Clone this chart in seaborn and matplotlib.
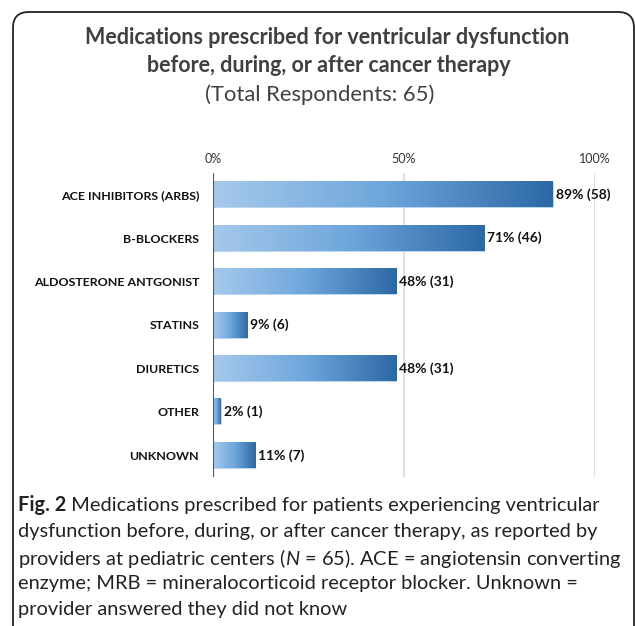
import matplotlib.pyplot as plt
import seaborn as sns
import numpy as np
import pandas as pd
from matplotlib.colors import LinearSegmentedColormap
from matplotlib.patches import FancyBboxPatch

# Data
categories = ['ACE INHIBITORS (ARBS)', 'B-BLOCKERS', 'ALDOSTERONE ANTGONIST',
              'STATINS', 'DIURETICS', 'OTHER', 'UNKNOWN']
percents = [89, 71, 48, 9, 48, 2, 11]
counts = [58, 46, 31, 6, 31, 1, 7]
ticks = [0, 50, 100]
tick_labels = ['0%', '50%', '100%']

df = pd.DataFrame({'med': categories, 'pct': percents, 'n': counts})

sns.set_style('white')
plt.rcParams['font.family'] = ['Lato', 'DejaVu Sans']
plt.rcParams['mathtext.fontset'] = 'custom'
plt.rcParams['mathtext.rm'] = 'Lato'
plt.rcParams['mathtext.it'] = 'Lato:italic'

fig = plt.figure(figsize=(6.35, 6.26), dpi=100)
W, H = 635, 626

# outer frame
frame = FancyBboxPatch((13 / W, -0.05), 621 / W, (H - 12) / H + 0.05,
                       boxstyle='round,pad=0,rounding_size=0.025',
                       transform=fig.transFigure, fill=False,
                       edgecolor='#222222', linewidth=1.3)
fig.patches.append(frame)

ax = fig.add_axes([213 / W, 1 - 477 / H, (595 - 213) / W, (477 - 173) / H])
sns.barplot(data=df, x='pct', y='med', ax=ax, width=0.58,
            color='#6aa5da', edgecolor='#bcd6ef', linewidth=0.6)

# gradient fill on each bar
cmap = LinearSegmentedColormap.from_list('grad', ['#a6c9eb', '#6ea7dc', '#2c68a5'])
grad = np.linspace(0, 1, 256).reshape(1, -1)
for p in ax.patches:
    x0, y0 = p.get_x(), p.get_y()
    w, h = p.get_width(), p.get_height()
    ax.imshow(grad, cmap=cmap, aspect='auto', extent=(x0, x0 + w, y0 + h, y0),
              zorder=p.get_zorder() + 0.1, interpolation='bicubic')

ax.set_xlim(0, 100)
ax.set_ylim(len(categories) - 0.5, -0.5)

for i, (pv, nv) in enumerate(zip(percents, counts)):
    ax.text(pv + 0.8, i, f'{pv}% ({nv})', va='center', ha='left',
            fontsize=10, fontweight='bold', color='#111111')

for t in ticks[1:]:
    ax.axvline(t, color='#d9d9d9', linewidth=1.2, zorder=0)
ax.axvline(0, color='#555555', linewidth=1.5, zorder=5)

ax.xaxis.tick_top()
ax.set_xticks(ticks)
ax.set_xticklabels(tick_labels, fontsize=9, color='#333333')
ax.tick_params(axis='x', length=0, pad=6)
ax.tick_params(axis='y', length=0, pad=10)
for lab in ax.get_yticklabels():
    lab.set_fontsize(8.9)
    lab.set_fontweight('bold')
    lab.set_color('#111111')
ax.set_xlabel('')
ax.set_ylabel('')
for s in ax.spines.values():
    s.set_visible(False)

# title
fig.text(327 / W, 1 - 38 / H, 'Medications prescribed for ventricular dysfunction',
         ha='center', va='center', fontsize=15.5, fontweight='bold', color='#404040')
fig.text(329 / W, 1 - 66 / H, 'before, during, or after cancer therapy',
         ha='center', va='center', fontsize=15.5, fontweight='bold', color='#404040')
fig.text(320 / W, 1 - 95 / H, '(Total Respondents: 65)',
         ha='center', va='center', fontsize=15.8, color='#404040')

# caption
cap_size = 14.4
cap_color = '#222222'
ys = [505, 532, 558, 584, 610]
fig_lab = fig.text(18 / W, 1 - ys[0] / H, 'Fig. 2', ha='left', va='center',
                   fontsize=cap_size, fontweight='bold', color=cap_color)
fig.canvas.draw()
ax.annotate(' Medications prescribed for patients experiencing ventricular',
            xy=(1, 0.5), xycoords=fig_lab, ha='left', va='center',
            fontsize=cap_size, color=cap_color, annotation_clip=False)
lines = ['dysfunction before, during, or after cancer therapy, as reported by',
         r'providers at pediatric centers ($N$ = 65). ACE = angiotensin converting',
         'enzyme; MRB = mineralocorticoid receptor blocker. Unknown =',
         'provider answered they did not know']
for y, line in zip(ys[1:], lines):
    fig.text(18 / W, 1 - y / H, line, ha='left', va='center',
             fontsize=cap_size, color=cap_color)

fig.savefig('out.png', dpi=100)
